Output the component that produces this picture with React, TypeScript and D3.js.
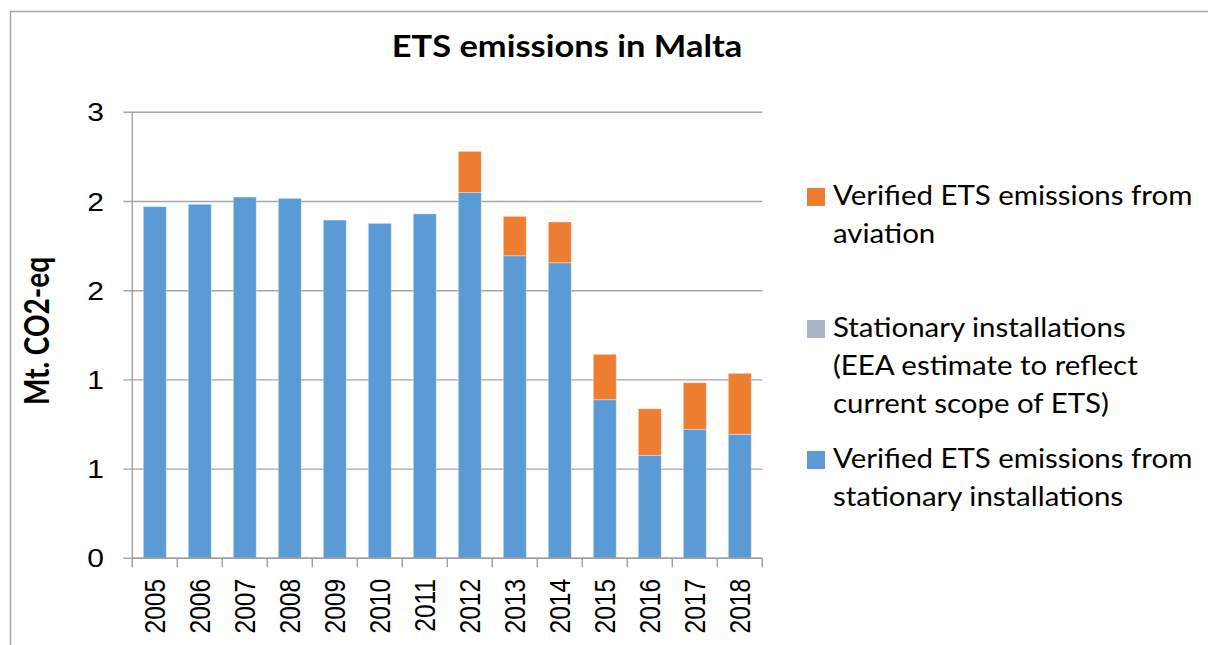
import * as d3 from 'd3';

const W = 1208;
const H = 645;
const PLOT = { left: 132.3, right: 762.3, top: 112.3, bottom: 558.3 };

const color = {
  stationary: '#5B9BD5',
  estimate: '#A9B4C9',
  aviation: '#ED7D31',
  grid: '#A6A6A6',
  axis: '#A0A0A0',
  text: '#000000',
};

// data (Mt CO2-eq)
const years = ['2005', '2006', '2007', '2008', '2009', '2010', '2011', '2012', '2013', '2014', '2015', '2016', '2017', '2018'];
const stationary = [2.365, 2.381, 2.43, 2.421, 2.275, 2.253, 2.317, 2.461, 2.035, 1.988, 1.067, 0.693, 0.868, 0.834];
const eeaEstimate = [0, 0, 0, 0, 0, 0, 0, 0, 0, 0, 0, 0, 0, 0];
const aviation = [0, 0, 0, 0, 0, 0, 0, 0.276, 0.265, 0.274, 0.305, 0.313, 0.313, 0.41];

const yTicks = [0, 0.6, 1.2, 1.8, 2.4, 3.0];
const yTickLabels = ['0', '1', '1', '2', '2', '3'];

const seriesKeys = ['stationary', 'estimate', 'aviation'] as const;
const seriesColor: Record<string, string> = {
  stationary: color.stationary,
  estimate: color.estimate,
  aviation: color.aviation,
};

// legend, top to bottom
const legendKeys = ['aviation', 'estimate', 'stationary'];
const legendLines = [
  ['Verified ETS emissions from', 'aviation'],
  ['Stationary installations', '(EEA estimate to reflect', 'current scope of ETS)'],
  ['Verified ETS emissions from', 'stationary installations'],
];
const legendBaselines = [205, 337, 468];

const NUM_FONT = '"Liberation Sans", Arial, sans-serif';
const TXT_FONT = 'Lato, "Open Sans", sans-serif';
const SX = 1.2; // the numbers look horizontally stretched in the picture

export default function App() {
  const rows = years.map((y, i) => ({
    year: y,
    stationary: stationary[i],
    estimate: eeaEstimate[i],
    aviation: aviation[i],
  }));

  const stacked = d3.stack<any>().keys(seriesKeys as unknown as string[])(rows);

  const xScale = d3
    .scaleBand()
    .domain(years)
    .range([PLOT.left, PLOT.right])
    .paddingInner(0.49)
    .paddingOuter(0.245);

  const yScale = d3.scaleLinear().domain([0, 3]).range([PLOT.bottom, PLOT.top]);

  const step = xScale.step();
  const boundaries = d3.range(years.length + 1).map(i => PLOT.left + i * step);

  return (
    <svg
      width={W}
      height={H}
      style={{ position: 'absolute', left: 0, top: 0, background: '#fff' }}
    >
      <rect x={0} y={0} width={W} height={H} fill="#fff" />
      {/* chart frame (right and bottom are off the picture) */}
      <path d={`M10.5,${H} V11.5 H${W}`} fill="none" stroke="#A6A6A6" strokeWidth={1.5} />

      {/* title */}
      <text
        transform={`translate(567,57) scale(1.13,1)`}
        textAnchor="middle"
        fontFamily={TXT_FONT}
        fontWeight={700}
        fontSize={30.5}
        fill={color.text}
      >
        ETS emissions in Malta
      </text>

      {/* gridlines */}
      {yTicks.map(t => (
        <line
          key={'g' + t}
          x1={PLOT.left - 9}
          x2={PLOT.right}
          y1={yScale(t)}
          y2={yScale(t)}
          stroke={color.grid}
          strokeWidth={1.4}
        />
      ))}

      {/* y axis */}
      <line x1={PLOT.left} x2={PLOT.left} y1={PLOT.top} y2={PLOT.bottom} stroke={color.axis} strokeWidth={1.4} />
      {yTicks.map((t, i) => (
        <text
          key={'yl' + t}
          transform={`translate(104,${yScale(t)}) scale(${SX},1)`}
          dy="0.36em"
          textAnchor="end"
          fontFamily={NUM_FONT}
          fontSize={25}
          fill={color.text}
        >
          {yTickLabels[i]}
        </text>
      ))}
      <text
        transform={`translate(49,331) scale(${SX},1) rotate(-90)`}
        textAnchor="middle"
        fontFamily={TXT_FONT}
        fontWeight={700}
        fontSize={28}
        fill={color.text}
      >
        Mt. CO2-eq
      </text>

      {/* bars */}
      {stacked.map(layer => (
        <g key={layer.key} fill={seriesColor[layer.key]}>
          {layer.map((d, i) => {
            const h = yScale(d[0]) - yScale(d[1]);
            if (h <= 0) return null;
            return (
              <rect
                key={years[i]}
                x={xScale(years[i])}
                y={yScale(d[1])}
                width={xScale.bandwidth()}
                height={h}
                stroke="#ffffff"
                strokeOpacity={0.35}
                strokeWidth={1}
              />
            );
          })}
        </g>
      ))}

      {/* x axis */}
      <line x1={PLOT.left} x2={PLOT.right} y1={PLOT.bottom} y2={PLOT.bottom} stroke={color.axis} strokeWidth={1.4} />
      {boundaries.map((bx, i) => (
        <line key={'xt' + i} x1={bx} x2={bx} y1={PLOT.bottom} y2={PLOT.bottom + 9} stroke={color.axis} strokeWidth={1.4} />
      ))}
      {years.map(y => (
        <text
          key={'xl' + y}
          transform={`translate(${(xScale(y) ?? 0) + xScale.bandwidth() / 2},579) scale(${SX},1) rotate(-90)`}
          dy="0.36em"
          textAnchor="end"
          fontFamily={NUM_FONT}
          fontSize={24.5}
          fill={color.text}
        >
          {y}
        </text>
      ))}

      {/* legend */}
      {legendKeys.map((k, i) => (
        <g key={'lg' + k}>
          <rect x={807} y={legendBaselines[i] - 17} width={18} height={18} fill={seriesColor[k]} />
          {legendLines[i].map((line, j) => (
            <text
              key={j}
              transform={`translate(833,${legendBaselines[i] + j * 38}) scale(1.12,1)`}
              fontFamily={TXT_FONT}
              fontSize={26.3}
              fill={color.text}
            >
              {line}
            </text>
          ))}
        </g>
      ))}
    </svg>
  );
}
